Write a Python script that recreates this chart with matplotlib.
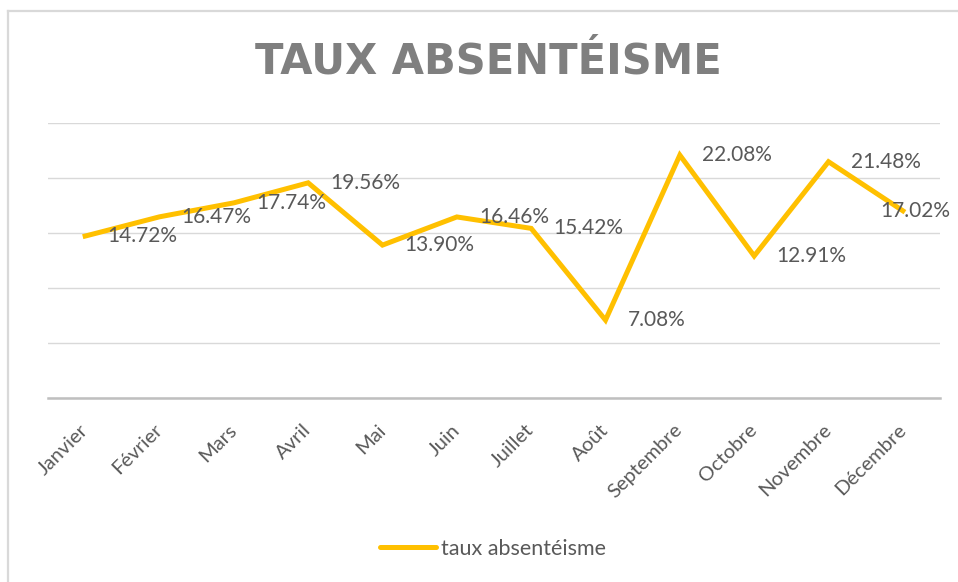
import matplotlib
matplotlib.use("Agg")
import matplotlib.pyplot as plt
from matplotlib.lines import Line2D

months = ["Janvier", "Février", "Mars", "Avril", "Mai", "Juin", "Juillet",
          "Août", "Septembre", "Octobre", "Novembre", "Décembre"]
rates = [14.72, 16.47, 17.74, 19.56, 13.90, 16.46, 15.42, 7.08, 22.08, 12.91, 21.48, 17.02]
series_name = "taux absentéisme"
title = "TAUX ABSENTÉISME"

plt.rcParams['font.family'] = ['Lato', 'DejaVu Sans']

W, H = 958, 582
fig = plt.figure(figsize=(W / 100, H / 100), dpi=100)
fig.patch.set_facecolor("white")

# chart frame (top and left edges visible)
fig.add_artist(Line2D([8 / W, 1.0], [1 - 11 / H, 1 - 11 / H], color="#d9d9d9", lw=1.6,
                      transform=fig.transFigure))
fig.add_artist(Line2D([8 / W, 8 / W], [0, 1 - 11 / H], color="#d9d9d9", lw=1.6,
                      transform=fig.transFigure))

left, right, top, bottom = 48, 940, 123, 398
ax = fig.add_axes([left / W, 1 - bottom / H, (right - left) / W, (bottom - top) / H])

x = list(range(len(months)))
ax.plot(x, rates, color="#FFC000", lw=3.6, solid_joinstyle="miter", zorder=3,
        label=series_name)

ax.set_xlim(-0.5, len(months) - 0.5)
ax.set_ylim(0, 25)
ax.set_yticks([0, 5, 10, 15, 20, 25])
ax.yaxis.grid(True, color="#d9d9d9", lw=1.0)
ax.set_axisbelow(True)
ax.tick_params(axis="y", left=False, labelleft=False)
for s in ["top", "right", "left"]:
    ax.spines[s].set_visible(False)
ax.spines["bottom"].set_color("#bfbfbf")
ax.spines["bottom"].set_linewidth(1.8)
ax.spines["bottom"].set_zorder(2)

ax.set_xticks(x)
ax.set_xticklabels(months, rotation=45, ha="right", va="center", rotation_mode="anchor",
                   color="#595959", fontsize=14.5)
ax.tick_params(axis="x", length=0, pad=21)

for i, (xi, v) in enumerate(zip(x, rates)):
    dx = 16 if i < len(rates) - 1 else -16
    ax.annotate(f"{v:.2f}%", (xi, v), xytext=(dx, 0), textcoords="offset points",
                ha="left", va="center", color="#595959", fontsize=15, zorder=4,
                annotation_clip=False)

fig.text(488 / W, 1 - 62 / H, title, ha="center", va="center",
         fontsize=30, fontweight="bold", color="#7f7f7f", family="DejaVu Sans")

leg = fig.legend(handles=[Line2D([], [], color="#FFC000", lw=3.6, solid_capstyle="round")],
                 labels=[series_name], loc="center", bbox_to_anchor=(493 / W, 1 - 549 / H),
                 frameon=False, fontsize=15.5, handlelength=2.6, handletextpad=0.2)
for t in leg.get_texts():
    t.set_color("#595959")

fig.savefig("out.png", dpi=100, facecolor="white")
